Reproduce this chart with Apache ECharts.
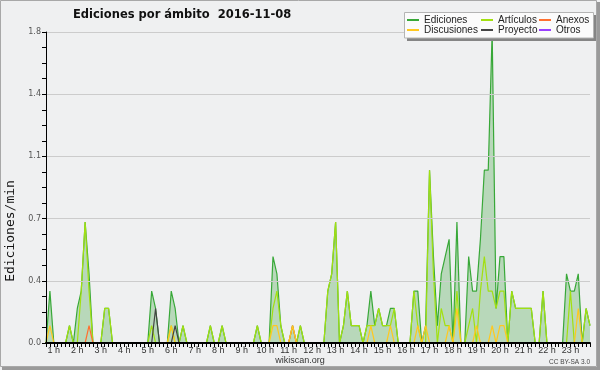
<!DOCTYPE html>
<html><head><meta charset="utf-8">
<script src="https://cdn.jsdelivr.net/npm/echarts@6/dist/echarts.min.js"></script>
<style>html,body{margin:0;padding:0;background:#fff}#c{width:600px;height:370px}</style>
</head><body><div id="c"></div>
<script>
// 10-minute slots, first slot 00:40, last 23:50
const startMinute = 40, slotMinutes = 10, slotCount = 140;

// rows: first two slots (00:40, 00:50), then one row of 6 slots per hour 1h..23h
const ediciones = [
  0, 0.3,
  0, 0, 0, 0, 0.1, 0,
  0.2, 0.3, 0.7, 0.4, 0, 0,
  0, 0.2, 0.2, 0, 0, 0,
  0, 0, 0, 0, 0, 0,
  0, 0.3, 0.2, 0, 0, 0,
  0.3, 0.2, 0, 0.1, 0, 0,
  0, 0, 0, 0, 0.1, 0,
  0, 0.1, 0, 0, 0, 0,
  0, 0, 0, 0, 0.1, 0,
  0, 0, 0.5, 0.4, 0.1, 0,
  0, 0.1, 0, 0.1, 0, 0,
  0, 0, 0, 0, 0.3, 0.4,
  0.7, 0, 0.1, 0.3, 0.1, 0.1,
  0.1, 0, 0.1, 0.3, 0.1, 0.2,
  0.1, 0.1, 0.2, 0.2, 0, 0,
  0, 0, 0.3, 0.3, 0, 0.1,
  1.0, 0.5, 0.1, 0.4, 0.5, 0.6,
  0, 0.7, 0, 0, 0.5, 0.3,
  0.3, 0.6, 1.0, 1.0, 1.8, 0.2,
  0.5, 0.5, 0, 0.3, 0.2, 0.2,
  0.2, 0.2, 0.2, 0, 0, 0.3,
  0, 0, 0, 0, 0, 0.4,
  0.3, 0.3, 0.4, 0, 0.2, 0.1
];
const articulos = [
  0, 0,
  0, 0, 0, 0, 0.1, 0,
  0, 0.3, 0.7, 0.3, 0, 0,
  0, 0.2, 0.2, 0, 0, 0,
  0, 0, 0, 0, 0, 0,
  0, 0.1, 0, 0, 0, 0,
  0.1, 0, 0, 0.1, 0, 0,
  0, 0, 0, 0, 0.1, 0,
  0, 0.1, 0, 0, 0, 0,
  0, 0, 0, 0, 0.1, 0,
  0, 0, 0.2, 0.3, 0.1, 0,
  0, 0, 0, 0.1, 0, 0,
  0, 0, 0, 0, 0.3, 0.4,
  0.7, 0, 0.1, 0.3, 0.1, 0.1,
  0.1, 0, 0.1, 0.1, 0.1, 0.2,
  0.1, 0.1, 0.1, 0.2, 0, 0,
  0, 0, 0.3, 0.1, 0, 0,
  1.0, 0.4, 0, 0.2, 0.1, 0.1,
  0, 0.3, 0, 0, 0.1, 0.2,
  0, 0.3, 0.5, 0.3, 0.3, 0.2,
  0.3, 0.3, 0, 0.3, 0.2, 0.2,
  0.2, 0.2, 0.2, 0, 0, 0.3,
  0, 0, 0, 0, 0, 0,
  0.3, 0, 0, 0, 0.2, 0.1
];
const anexos = [
  0, 0,
  0, 0, 0, 0, 0, 0,
  0, 0, 0, 0.1, 0, 0,
  0, 0, 0, 0, 0, 0,
  0, 0, 0, 0, 0, 0,
  0, 0, 0, 0, 0, 0,
  0, 0, 0, 0, 0, 0,
  0, 0, 0, 0, 0, 0,
  0, 0, 0, 0, 0, 0,
  0, 0, 0, 0, 0, 0,
  0, 0, 0, 0, 0, 0,
  0, 0.1, 0, 0, 0, 0,
  0, 0, 0, 0, 0, 0,
  0, 0, 0, 0, 0, 0,
  0, 0, 0, 0, 0, 0,
  0, 0, 0, 0, 0, 0,
  0, 0, 0, 0, 0, 0,
  0, 0, 0, 0, 0, 0,
  0, 0, 0, 0, 0, 0,
  0, 0, 0, 0, 0, 0,
  0, 0, 0, 0, 0, 0,
  0, 0, 0, 0, 0, 0,
  0, 0, 0, 0, 0, 0,
  0, 0, 0, 0, 0, 0
];
const discusiones = [
  0, 0.1,
  0, 0, 0, 0, 0, 0,
  0, 0, 0, 0, 0, 0,
  0, 0, 0, 0, 0, 0,
  0, 0, 0, 0, 0, 0,
  0, 0, 0, 0, 0, 0,
  0.1, 0, 0, 0, 0, 0,
  0, 0, 0, 0, 0, 0,
  0, 0, 0, 0, 0, 0,
  0, 0, 0, 0, 0, 0,
  0, 0, 0.1, 0.1, 0, 0,
  0, 0.1, 0, 0, 0, 0,
  0, 0, 0, 0, 0, 0,
  0, 0, 0, 0, 0, 0,
  0, 0, 0, 0.1, 0, 0,
  0, 0, 0.1, 0, 0, 0,
  0, 0, 0, 0.1, 0, 0.1,
  0, 0, 0, 0, 0, 0.1,
  0, 0.2, 0, 0, 0, 0,
  0.1, 0, 0, 0, 0.1, 0,
  0.1, 0.1, 0, 0, 0, 0,
  0, 0, 0, 0, 0, 0,
  0, 0, 0, 0, 0, 0,
  0, 0, 0.2, 0, 0, 0
];
const proyecto = [
  0, 0,
  0, 0, 0, 0, 0, 0,
  0, 0, 0, 0, 0, 0,
  0, 0, 0, 0, 0, 0,
  0, 0, 0, 0, 0, 0,
  0, 0, 0.2, 0, 0, 0,
  0, 0.1, 0, 0, 0, 0,
  0, 0, 0, 0, 0, 0,
  0, 0, 0, 0, 0, 0,
  0, 0, 0, 0, 0, 0,
  0, 0, 0, 0, 0, 0,
  0, 0, 0, 0, 0, 0,
  0, 0, 0, 0, 0, 0,
  0, 0, 0, 0, 0, 0,
  0, 0, 0, 0, 0, 0,
  0, 0, 0, 0, 0, 0,
  0, 0, 0, 0, 0, 0,
  0, 0, 0, 0, 0, 0,
  0, 0, 0, 0, 0, 0,
  0, 0, 0, 0, 0, 0,
  0, 0, 0, 0, 0, 0,
  0, 0, 0, 0, 0, 0,
  0, 0, 0, 0, 0, 0,
  0, 0, 0, 0, 0, 0
];
const otros = [
  0, 0,
  0, 0, 0, 0, 0, 0,  0, 0, 0, 0, 0, 0,  0, 0, 0, 0, 0, 0,  0, 0, 0, 0, 0, 0,
  0, 0, 0, 0, 0, 0,  0, 0, 0, 0, 0, 0,  0, 0, 0, 0, 0, 0,  0, 0, 0, 0, 0, 0,
  0, 0, 0, 0, 0, 0,  0, 0, 0, 0, 0, 0,  0, 0, 0, 0, 0, 0,  0, 0, 0, 0, 0, 0,
  0, 0, 0, 0, 0, 0,  0, 0, 0, 0, 0, 0,  0, 0, 0, 0, 0, 0,  0, 0, 0, 0, 0, 0,
  0, 0, 0, 0, 0, 0,  0, 0, 0, 0, 0, 0,  0, 0, 0, 0, 0, 0,  0, 0, 0, 0, 0, 0,
  0, 0, 0, 0, 0, 0,  0, 0, 0, 0, 0, 0,  0, 0, 0, 0, 0, 0
];

const seriesNames = ['Ediciones', 'Artículos', 'Anexos', 'Discusiones', 'Proyecto', 'Otros'];
const titleText = 'Ediciones por ámbito  2016-11-08';
const yAxisTitle = 'Ediciones/min';
const hourSuffix = ' h';

const categories = [];
for (let i = 0; i < slotCount; i++) {
  const m = startMinute + i * slotMinutes;
  categories.push(String(Math.floor(m / 60)).padStart(2, '0') + ':' + String(m % 60).padStart(2, '0'));
}

const colors = {
  'Ediciones': '#38a838',
  'Artículos': '#a2e010',
  'Anexos': '#ff7030',
  'Discusiones': '#ffc820',
  'Proyecto': '#444444',
  'Otros': '#9a40ff'
};
const values = {
  'Ediciones': ediciones, 'Artículos': articulos, 'Anexos': anexos,
  'Discusiones': discusiones, 'Proyecto': proyecto, 'Otros': otros
};

const chart = echarts.init(document.getElementById('c'), null, {renderer: 'canvas'});

const series = seriesNames.map((n, k) => {
  const s = {
    name: n, type: 'line', data: values[n], symbol: 'none', animation: false,
    color: colors[n],
    lineStyle: {width: 1.2, color: colors[n]},
    z: 2 + k * 0.01
  };
  if (n === 'Ediciones') s.areaStyle = {color: 'rgba(56,160,56,0.42)'};
  return s;
});

const legendCommon = {
  orient: 'vertical', top: 15, padding: 0, itemGap: 0,
  itemWidth: 12, itemHeight: 2, icon: 'rect', selectedMode: false, z: 20,
  textStyle: {fontFamily: 'Liberation Sans', fontSize: 10, color: '#222', lineHeight: 9}
};

chart.setOption({
  backgroundColor: '#eff0f1',
  animation: false,
  grid: {left: 46, right: 10, top: 32, bottom: 27, containLabel: false},
  xAxis: {
    type: 'category', data: categories, boundaryGap: false, z: 10,
    axisLine: {lineStyle: {color: '#000', width: 2}},
    axisTick: {interval: 0, length: 4, lineStyle: {color: '#000'}},
    axisLabel: {
      interval: (idx, v) => v.endsWith(':00'),
      formatter: v => parseInt(v, 10) + hourSuffix,
      fontFamily: 'Liberation Sans', fontSize: 9, color: '#333', margin: 3
    },
    splitLine: {show: false}
  },
  yAxis: {
    type: 'value', min: 0, max: 1.8, interval: 0.36, z: 10,
    axisLine: {show: true, lineStyle: {color: '#000'}},
    axisTick: {show: true, length: 4, lineStyle: {color: '#000'}},
    minorTick: {show: true, splitNumber: 4, length: 4, lineStyle: {color: '#000'}},
    axisLabel: {formatter: v => v.toFixed(1), fontFamily: 'DejaVu Sans', fontSize: 8, color: '#555', margin: 5},
    splitLine: {lineStyle: {color: '#cccccc'}}
  },
  legend: [
    Object.assign({}, legendCommon, {left: 407, data: ['Ediciones', 'Discusiones']}),
    Object.assign({}, legendCommon, {left: 481, data: ['Artículos', 'Proyecto']}),
    Object.assign({}, legendCommon, {left: 539, data: ['Anexos', 'Otros']})
  ],
  graphic: [
    {type: 'rect', z: 1, silent: true, shape: {x: 0.5, y: 0.5, width: 596, height: 366},
     style: {fill: null, stroke: '#a8a8a8', lineWidth: 1}},
    {type: 'rect', z: 1, silent: true, shape: {x: 597, y: 2, width: 3, height: 368}, style: {fill: '#9a9a9a'}},
    {type: 'rect', z: 1, silent: true, shape: {x: 2, y: 367, width: 598, height: 3}, style: {fill: '#9a9a9a'}},
    {type: 'rect', z: 15, silent: true, shape: {x: 407, y: 15, width: 189, height: 26}, style: {fill: '#858585'}},
    {type: 'rect', z: 16, silent: true, shape: {x: 404.5, y: 12.5, width: 189, height: 25.5},
     style: {fill: '#fbfbfb', stroke: '#b4b4b4', lineWidth: 1}},
    {type: 'text', z: 16, silent: true, x: 73, y: 15,
     style: {text: titleText, font: 'bold 11.5px "DejaVu Sans"', fill: '#111',
             textAlign: 'left', textVerticalAlign: 'middle', align: 'left', verticalAlign: 'middle'}},
    {type: 'text', z: 16, silent: true, x: 11, y: 231, rotation: Math.PI / 2,
     style: {text: yAxisTitle, font: '13px "DejaVu Sans Mono"', fill: '#111',
             textAlign: 'center', textVerticalAlign: 'middle', align: 'center', verticalAlign: 'middle'}},
    {type: 'text', z: 16, silent: true, x: 300, y: 361,
     style: {text: 'wikiscan.org', font: '9px "Liberation Sans"', fill: '#333',
             textAlign: 'center', textVerticalAlign: 'middle', align: 'center', verticalAlign: 'middle'}},
    {type: 'text', z: 16, silent: true, x: 590, y: 362,
     style: {text: 'CC BY-SA 3.0', font: '6.5px "Liberation Sans"', fill: '#444',
             textAlign: 'right', textVerticalAlign: 'middle', align: 'right', verticalAlign: 'middle'}}
  ],
  series: series
});
</script>
</body></html>
